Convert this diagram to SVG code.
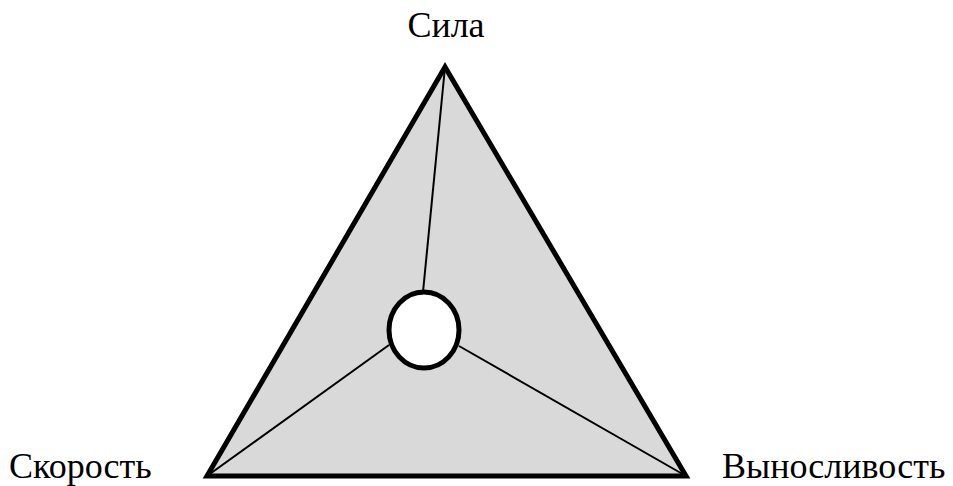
<svg xmlns="http://www.w3.org/2000/svg" width="953" height="486" viewBox="0 0 953 486">
<style>
.lbl{font-family:"Liberation Serif","Times New Roman",serif;font-size:36px;fill:#000}
.thin{stroke:#000;stroke-width:2;fill:none}
</style>
<rect width="953" height="486" fill="#fff"/>
<g id="triangle">
<polygon points="445,67 207,476 686,476" fill="#d9d9d9" stroke="#000" stroke-width="5" stroke-linejoin="miter"/>
</g>
<g id="connectors">
<line class="thin" x1="445" y1="67" x2="423" y2="292"/>
<line class="thin" x1="207" y1="476" x2="389" y2="345"/>
<line class="thin" x1="686" y1="476" x2="459" y2="346"/>
</g>
<g id="center">
<ellipse cx="424" cy="330" rx="35" ry="38" fill="#fff" stroke="#000" stroke-width="5"/>
</g>
<g id="n-sila"><text class="lbl" x="446" y="37" text-anchor="middle">Сила</text></g>
<g id="n-skorost"><text class="lbl" x="9" y="478">Скорость</text></g>
<g id="n-vynoslivost"><text class="lbl" x="722" y="478">Выносливость</text></g>
</svg>
